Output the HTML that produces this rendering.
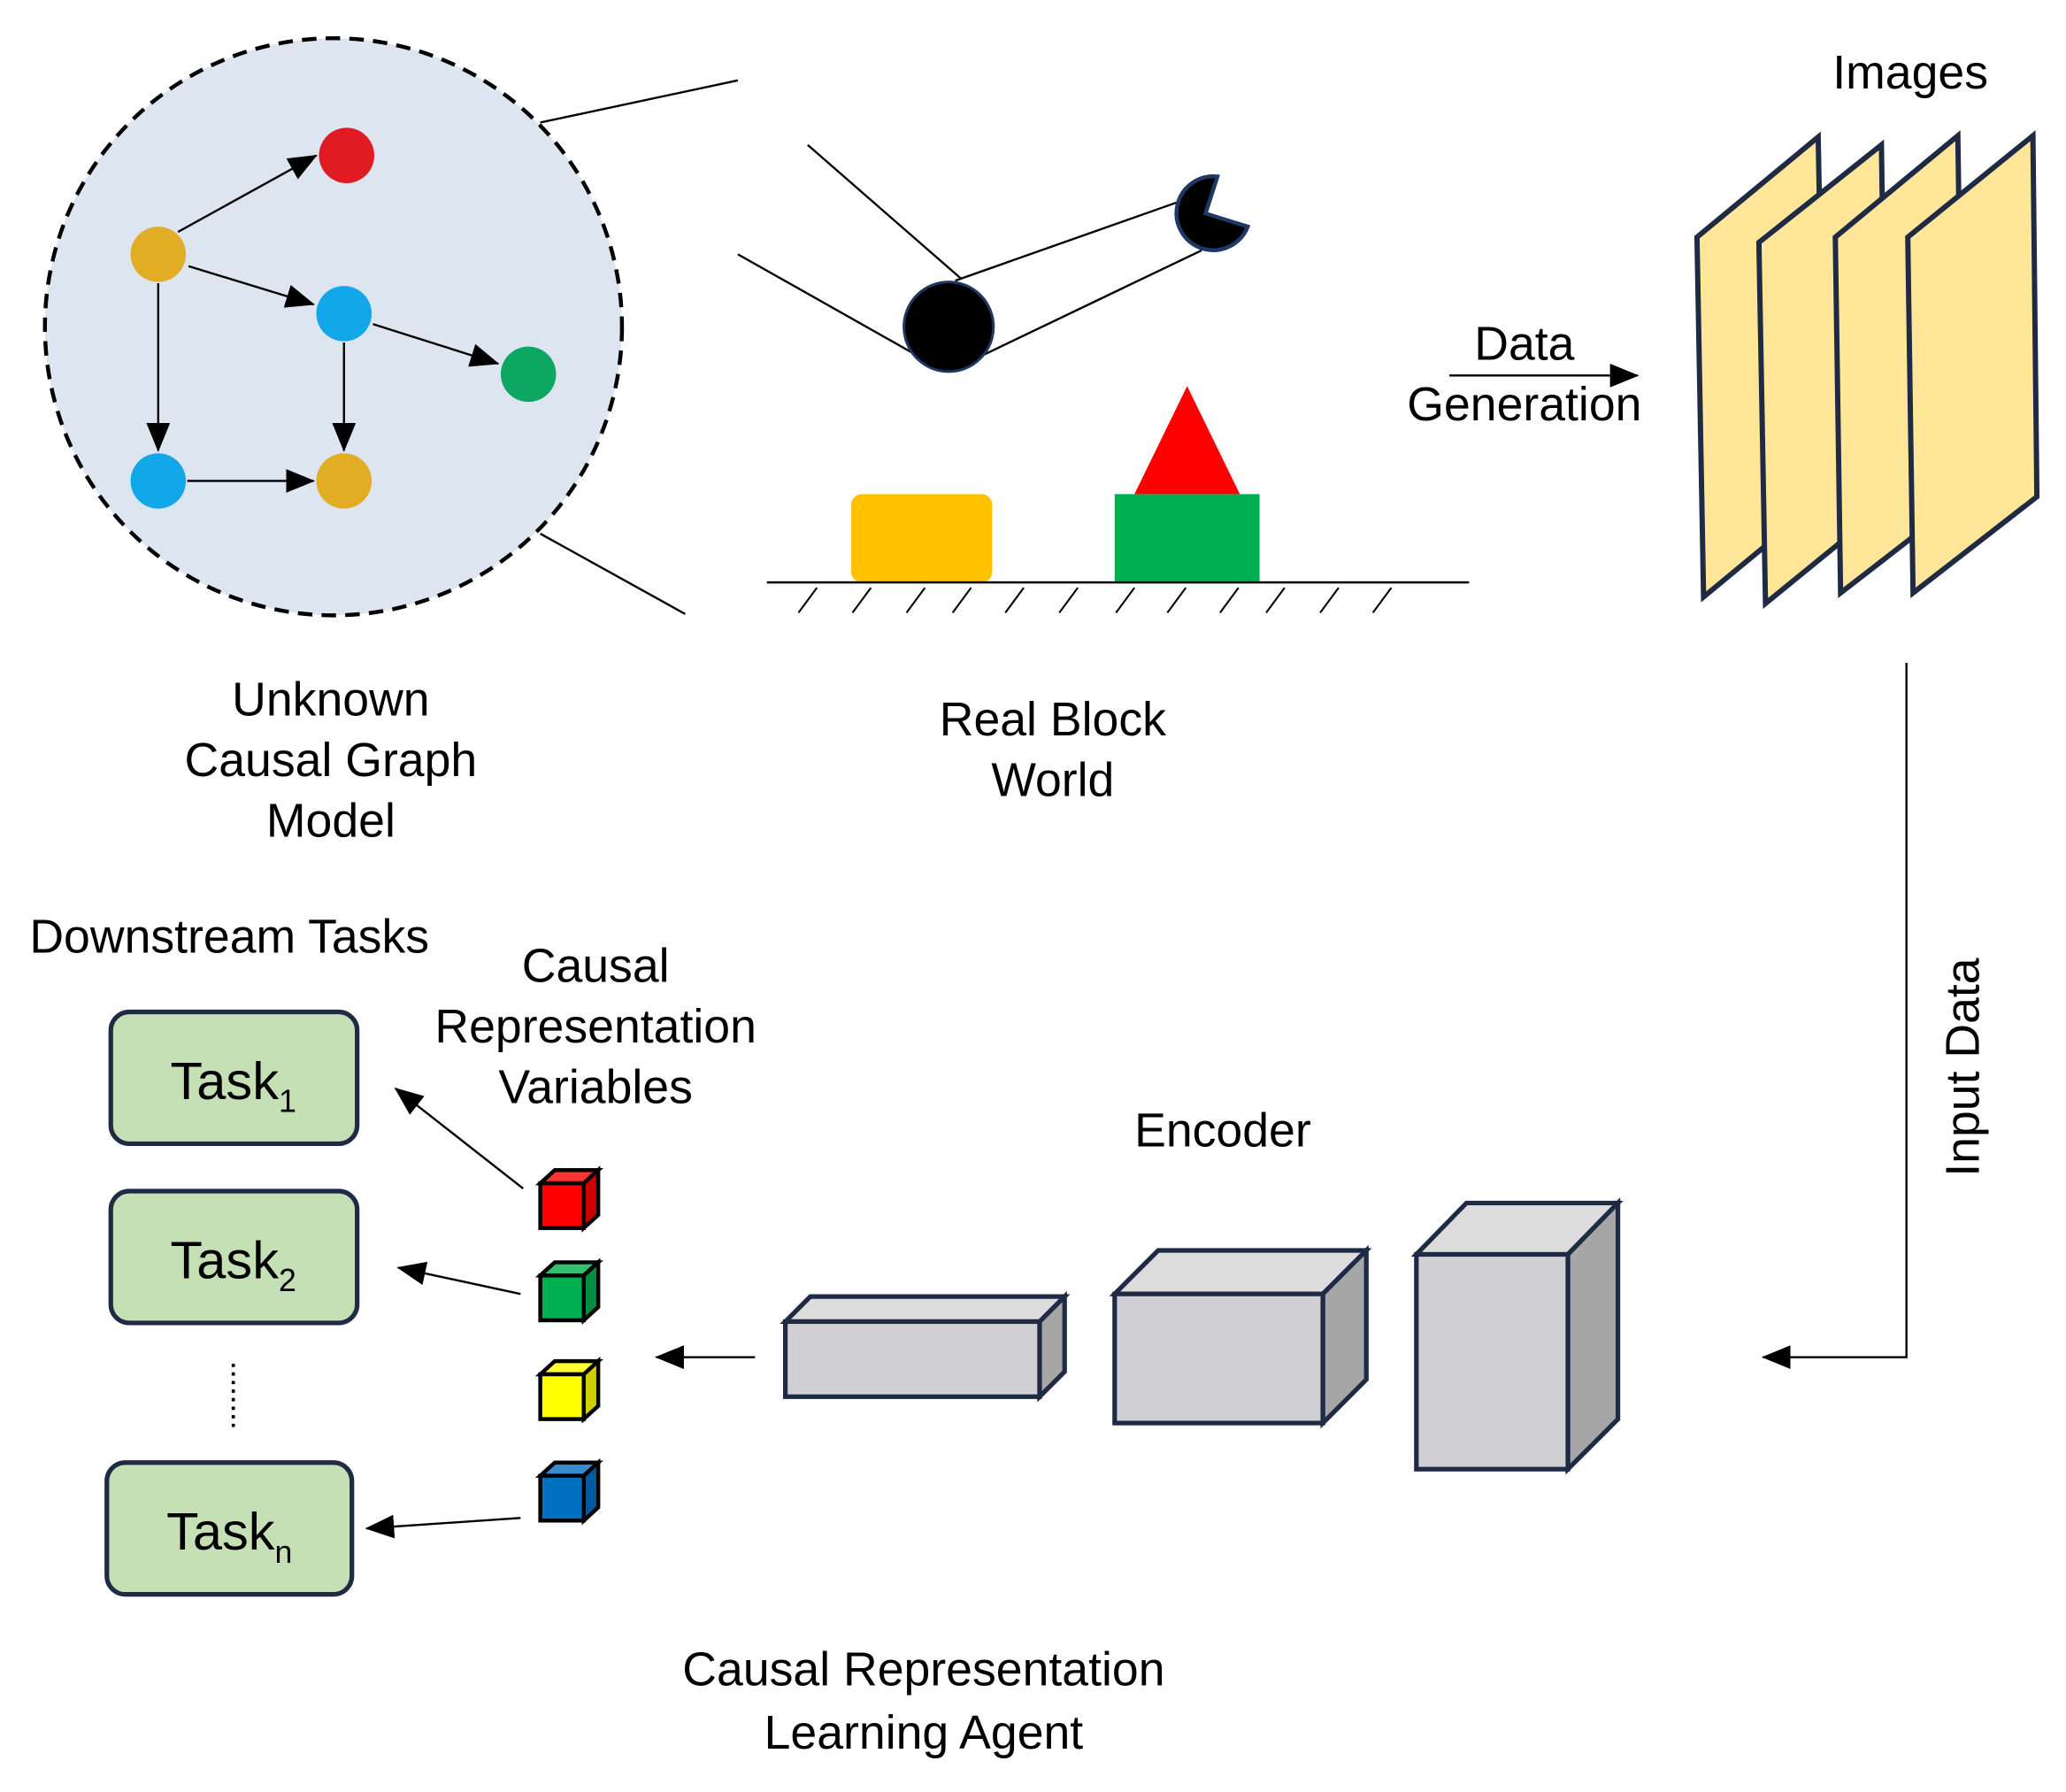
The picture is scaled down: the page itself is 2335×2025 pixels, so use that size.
<!DOCTYPE html>
<html><head><meta charset="utf-8"><style>
html,body{margin:0;padding:0;background:#fff;}
svg{display:block;}
text{font-family:"Liberation Sans","DejaVu Sans",sans-serif;fill:#000;}
</style></head><body>
<svg width="2335" height="2025" viewBox="0 0 1568 1360" xmlns="http://www.w3.org/2000/svg">
<defs>
<marker id="ab" markerWidth="22" markerHeight="18" refX="21" refY="9" orient="auto" markerUnits="userSpaceOnUse" viewBox="0 0 22 18">
<path d="M0,0 L22,9 L0,18 z" fill="#000"/></marker>
</defs>
<circle cx="253" cy="248" r="219" fill="#dde5f0" stroke="#000" stroke-width="3" stroke-dasharray="11,7"/>
<g stroke="#000" stroke-width="1.6" marker-end="url(#ab)">
<line x1="135" y1="176" x2="240" y2="118"/>
<line x1="143" y1="202" x2="238" y2="231"/>
<line x1="283" y1="246" x2="378" y2="276"/>
<line x1="120" y1="215" x2="120" y2="342"/>
<line x1="261" y1="260" x2="261" y2="342"/>
<line x1="142" y1="365" x2="238" y2="365"/>
</g>
<circle cx="263" cy="118" r="21" fill="#e11b24"/>
<circle cx="120" cy="193" r="21" fill="#e0ad25"/>
<circle cx="261" cy="238" r="21" fill="#12a7e8"/>
<circle cx="401" cy="284" r="21" fill="#0ea663"/>
<circle cx="120" cy="365" r="21" fill="#12a7e8"/>
<circle cx="261" cy="365" r="21" fill="#e0ad25"/>
<line x1="410" y1="93" x2="560" y2="61" stroke="#000" stroke-width="1.6"/>
<line x1="410" y1="405" x2="520" y2="466" stroke="#000" stroke-width="1.6"/>
<g stroke="#000" stroke-width="1.6">
<line x1="613" y1="110" x2="730" y2="212"/>
<line x1="560" y1="193" x2="700" y2="272"/>
<line x1="725" y1="213" x2="895" y2="153"/>
<line x1="745" y1="270" x2="912" y2="190"/>
</g>
<circle cx="720" cy="248" r="34" fill="#000" stroke="#1f3864" stroke-width="2"/>
<path d="M915,162 L924,134 A28,28 0 1 0 947,172 Z" fill="#000" stroke="#1f3864" stroke-width="3"/>
<rect x="646" y="375" width="107" height="67" rx="8" fill="#ffc000"/>
<rect x="846" y="375" width="110" height="67" fill="#00b050"/>
<polygon points="901,293 861,375 941,375" fill="#ff0000"/>
<line x1="582" y1="442" x2="1115" y2="442" stroke="#000" stroke-width="1.6"/>
<g stroke="#000" stroke-width="1.4">
<line x1="620" y1="446" x2="606" y2="465"/><line x1="661" y1="446" x2="647" y2="465"/>
<line x1="702" y1="446" x2="688" y2="465"/><line x1="737" y1="446" x2="723" y2="465"/>
<line x1="777" y1="446" x2="763" y2="465"/><line x1="818" y1="446" x2="804" y2="465"/>
<line x1="861" y1="446" x2="847" y2="465"/><line x1="900" y1="446" x2="886" y2="465"/>
<line x1="940" y1="446" x2="926" y2="465"/><line x1="975" y1="446" x2="961" y2="465"/>
<line x1="1016" y1="446" x2="1002" y2="465"/><line x1="1056" y1="446" x2="1042" y2="465"/>
</g>
<g font-size="36" text-anchor="middle">
<text x="251" y="543">Unknown</text><text x="251" y="589">Causal Graph</text><text x="251" y="635">Model</text>
<text x="799" y="558">Real Block</text><text x="799" y="604">World</text>
<text x="1157" y="273">Data</text><text x="1157" y="319">Generation</text>
<text x="1450" y="67">Images</text>
<text x="928" y="870">Encoder</text>
<text x="174" y="723">Downstream Tasks</text>
<text x="452" y="745">Causal</text><text x="452" y="791">Representation</text><text x="452" y="837">Variables</text>
<text x="701" y="1279">Causal Representation</text><text x="701" y="1327">Learning Agent</text>
<text transform="translate(1502,810) rotate(-90)">Input Data</text>
</g>
<line x1="1100" y1="285" x2="1243" y2="285" stroke="#000" stroke-width="1.6" marker-end="url(#ab)"/>
<g fill="#ffe699" stroke="#1f2a44" stroke-width="4" stroke-linejoin="miter">
<polygon points="1288,180 1380,104 1385,377 1293,453"/>
<polygon points="1335,184 1428,110 1432,383 1340,458"/>
<polygon points="1393,180 1486,103 1490,378 1397,450"/>
<polygon points="1448,180 1543,103 1546,377 1452,450"/>
</g>
<polyline points="1447,503 1447,1030 1338,1030" fill="none" stroke="#000" stroke-width="1.6" marker-end="url(#ab)"/>
<g stroke="#1f2a44" stroke-width="3.5" stroke-linejoin="miter">
<polygon points="1075,952 1113,913 1228,913 1190,952" fill="#dcdcdc"/>
<polygon points="1190,952 1228,913 1228,1077 1190,1115" fill="#a6a6a6"/>
<rect x="1075" y="952" width="115" height="163" fill="#d0cfd4"/>
<polygon points="846,982 879,949 1037,949 1004,982" fill="#dcdcdc"/>
<polygon points="1004,982 1037,949 1037,1047 1004,1080" fill="#a6a6a6"/>
<rect x="846" y="982" width="158" height="98" fill="#d0cfd4"/>
<polygon points="596,1003 615,984 808,984 789,1003" fill="#dcdcdc"/>
<polygon points="789,1003 808,984 808,1041 789,1060" fill="#a6a6a6"/>
<rect x="596" y="1003" width="193" height="57" fill="#d0cfd4"/>
</g>
<line x1="573" y1="1030" x2="498" y2="1030" stroke="#000" stroke-width="1.6" marker-end="url(#ab)"/>
<g stroke="#000" stroke-width="3" stroke-linejoin="miter">
<polygon points="410,898 421,888 454,888 443,898" fill="#ff3333"/>
<polygon points="443,898 454,888 454,922 443,932" fill="#cc0000"/>
<rect x="410" y="898" width="33" height="34" fill="#ff0000"/>
<polygon points="410,968 421,958 454,958 443,968" fill="#33c070"/>
<polygon points="443,968 454,958 454,992 443,1002" fill="#008f40"/>
<rect x="410" y="968" width="33" height="34" fill="#00b050"/>
<polygon points="410,1043 421,1033 454,1033 443,1043" fill="#ffff33"/>
<polygon points="443,1043 454,1033 454,1067 443,1077" fill="#d0d000"/>
<rect x="410" y="1043" width="33" height="34" fill="#ffff00"/>
<polygon points="410,1120 421,1110 454,1110 443,1120" fill="#3a8ad0"/>
<polygon points="443,1120 454,1110 454,1144 443,1154" fill="#005aa0"/>
<rect x="410" y="1120" width="33" height="34" fill="#0070c0"/>
</g>
<g stroke="#000" stroke-width="1.6" marker-end="url(#ab)">
<line x1="397" y1="902" x2="300" y2="826"/>
<line x1="395" y1="982" x2="302" y2="962"/>
<line x1="395" y1="1152" x2="278" y2="1160"/>
</g>
<g fill="#c5e0b4" stroke="#1f2a44" stroke-width="3.5">
<rect x="84" y="768" width="187" height="100" rx="14"/>
<rect x="84" y="904" width="187" height="100" rx="14"/>
<rect x="81" y="1110" width="186" height="100" rx="14"/>
</g>
<g font-size="40" text-anchor="middle">
<text x="177" y="834">Task<tspan font-size="24" dy="10">1</tspan></text>
<text x="177" y="970">Task<tspan font-size="24" dy="10">2</tspan></text>
<text x="174" y="1176">Task<tspan font-size="24" dy="10">n</tspan></text>
</g>
<line x1="177" y1="1035" x2="177" y2="1084" stroke="#000" stroke-width="2.5" stroke-dasharray="2.5,4"/>
</svg>
</body></html>
